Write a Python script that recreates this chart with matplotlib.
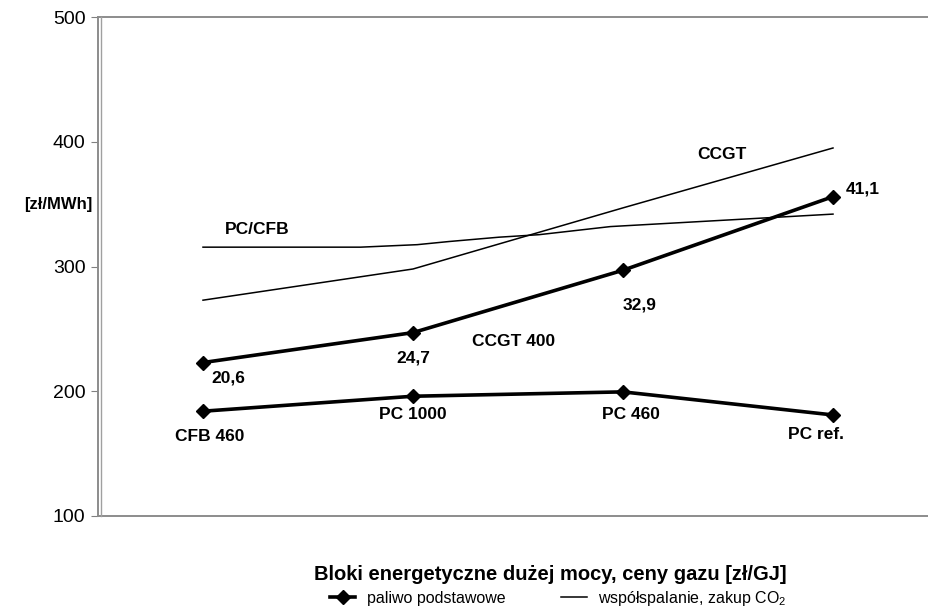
import matplotlib
matplotlib.use("Agg")
import matplotlib.pyplot as plt
from matplotlib.lines import Line2D

plt.rcParams['font.family'] = ['Liberation Sans', 'DejaVu Sans']
plt.rcParams['mathtext.fontset'] = 'custom'
plt.rcParams['mathtext.rm'] = 'Liberation Sans'
plt.rcParams['mathtext.it'] = 'Liberation Sans:italic'
plt.rcParams['mathtext.bf'] = 'Liberation Sans:bold'

# units (category positions 0..3)
coal_units = ["CFB 460", "PC 1000", "PC 460", "PC ref."]
gas_prices = ["20,6", "24,7", "32,9", "41,1"]
xpos = [0, 1, 2, 3]

# paliwo podstawowe [zł/MWh]
coal_base = [184, 196, 199.5, 181]
gas_base = [223, 247, 297, 356]

# współspalanie, zakup CO2 [zł/MWh]
ccgt_co2 = [273, 298, 347, 395]
pccfb_x = [0, 0.75, 1.02, 1.17, 1.41, 1.60, 1.94, 3]
pccfb_co2 = [315.5, 315.5, 317.5, 320, 323.5, 325.5, 332, 342]

fig = plt.figure(figsize=(9.29, 6.07), dpi=100)
ax = fig.add_axes([98 / 929, 91 / 607, 840 / 929, 499 / 607])

ax.plot(pccfb_x, pccfb_co2, color='black', lw=1.1)
ax.plot(xpos, ccgt_co2, color='black', lw=1.1)
ax.plot(xpos, gas_base, color='black', lw=2.6, marker='D', ms=7)
ax.plot(xpos, coal_base, color='black', lw=2.6, marker='D', ms=7)

ax.set_xlim(-0.5, 3.5)
ax.set_ylim(100, 500)
ax.set_yticks([100, 200, 300, 400, 500])
ax.set_xticks([])
ax.tick_params(axis='y', labelsize=14, direction='out', length=5,
               color='#808080', pad=4)
for s in ax.spines.values():
    s.set_color('#8c8c8c')
    s.set_linewidth(1.4)

# second line of the double left border
fig.add_artist(Line2D([101 / 929, 101 / 929], [91 / 607, 590 / 607],
                      color='#a0a0a0', lw=1.0))

bold = dict(fontsize=12.5, fontweight='bold', ha='center', va='center')

# unit names under the coal line
ax.text(0.03, 164, coal_units[0], **bold)
ax.text(1.0, 181, coal_units[1], **bold)
ax.text(2.04, 181, coal_units[2], **bold)
ax.text(2.92, 165, coal_units[3], **bold)

# gas prices next to the gas line
ax.text(0.12, 211, gas_prices[0], **bold)
ax.text(1.0, 227, gas_prices[1], **bold)
ax.text(2.08, 269, gas_prices[2], **bold)
ax.text(3.14, 362, gas_prices[3], **bold)

ax.text(1.48, 240, "CCGT 400", **bold)
ax.text(0.26, 330, "PC/CFB", **bold)
ax.text(2.47, 390, "CCGT", **bold)

fig.text(58 / 929, 1 - 204 / 607, "[zł/MWh]", fontsize=12,
         fontweight='bold', ha='center', va='center')
fig.text(550 / 929, 1 - 574 / 607,
         "Bloki energetyczne dużej mocy, ceny gazu [zł/GJ]",
         fontsize=14.5, fontweight='bold', ha='center', va='center')

handles = [Line2D([], [], color='black', lw=2.6, marker='D', ms=7),
           Line2D([], [], color='black', lw=1.1)]
labels = ["paliwo podstawowe", "współspalanie, zakup CO$_2$"]
fig.legend(handles, labels, loc='center', bbox_to_anchor=(558 / 929, 1 - 598 / 607),
           ncol=2, frameon=False, fontsize=11.5, handlelength=1.6,
           columnspacing=3.5, handletextpad=0.7)

fig.savefig("out.png", dpi=100)
